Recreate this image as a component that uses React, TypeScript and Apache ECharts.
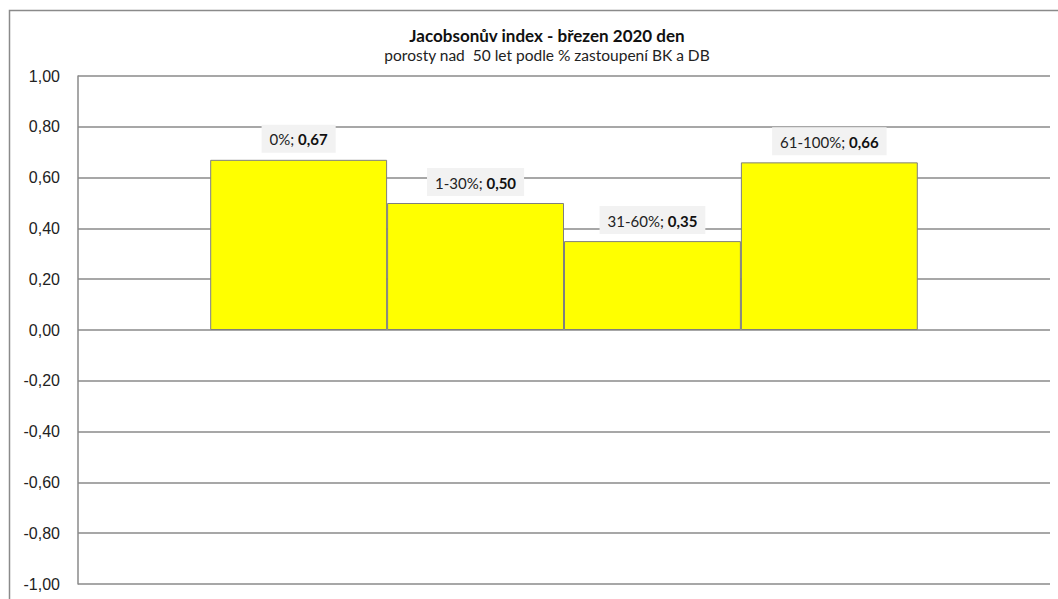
import React, { useEffect, useRef } from "react";
import * as echarts from "echarts";

const categories = ["0%", "1-30%", "31-60%", "61-100%"];
const values = [0.67, 0.5, 0.35, 0.66];
const yMin = -1;
const yMax = 1;
const yInterval = 0.2;

const fmt = (v: number) => v.toFixed(2).replace(".", ",");

export default function App() {
  const ref = useRef<HTMLDivElement>(null);
  useEffect(() => {
    const chart = echarts.init(ref.current!, null, { renderer: "svg" });
    const font = "Lato, 'Open Sans', sans-serif";
    const axisFont = "'Liberation Sans', Arial, sans-serif";
    chart.setOption({
      animation: false,
      backgroundColor: "#ffffff",
      textStyle: { fontFamily: font },
      title: {
        text: "Jacobsonův index - březen 2020 den",
        subtext: "porosty nad  50 let podle % zastoupení BK a DB",
        left: 542,
        textAlign: "center",
        top: 22,
        itemGap: 3,
        textStyle: { fontSize: 17, fontWeight: "bold", color: "#111", fontFamily: font },
        subtextStyle: { fontSize: 15.5, color: "#222", fontFamily: font },
      },
      graphic: [
        {
          type: "rect",
          shape: { x: 9.5, y: 10.5, width: 1100, height: 700 },
          style: { fill: "none", stroke: "#8a8a8a", lineWidth: 1.5 },
          silent: true,
        },
      ],
      grid: { left: 78, right: 8, top: 76, bottom: 15, containLabel: false },
      xAxis: {
        type: "category",
        data: [""],
        axisLine: { show: false },
        axisTick: { show: false },
        axisLabel: { show: false },
        splitLine: { show: false },
      },
      yAxis: {
        type: "value",
        min: yMin,
        max: yMax,
        interval: yInterval,
        axisLine: { show: true, lineStyle: { color: "#8a8a8a", width: 1.5 } },
        axisTick: { show: false },
        axisLabel: {
          formatter: (v: number) => fmt(v),
          fontSize: 16,
          color: "#222",
          margin: 18,
          fontFamily: axisFont,
        },
        splitLine: { show: true, lineStyle: { color: "#8a8a8a", width: 1.5 } },
      },
      series: categories.map((c, i) => ({
        type: "bar",
        name: c,
        data: [values[i]],
        barGap: "0%",
        barCategoryGap: "27.2%",
        itemStyle: { color: "#ffff00", borderColor: "#7f7f7f", borderWidth: 1 },
        label: {
          show: true,
          position: "top",
          distance: 7,
          backgroundColor: "#f2f2f2",
          padding: [7, 8, 6, 8],
          formatter: () => `{a|${c}; }{b|${fmt(values[i])}}`,
          rich: {
            a: { fontSize: 15, color: "#222", fontFamily: font },
            b: { fontSize: 15, color: "#111", fontWeight: "bold", fontFamily: font },
          },
        },
      })),
    });
    return () => chart.dispose();
  }, []);
  return (
    <div
      ref={ref}
      style={{ position: "fixed", left: 0, top: 0, width: 1058, height: 599 }}
    />
  );
}
